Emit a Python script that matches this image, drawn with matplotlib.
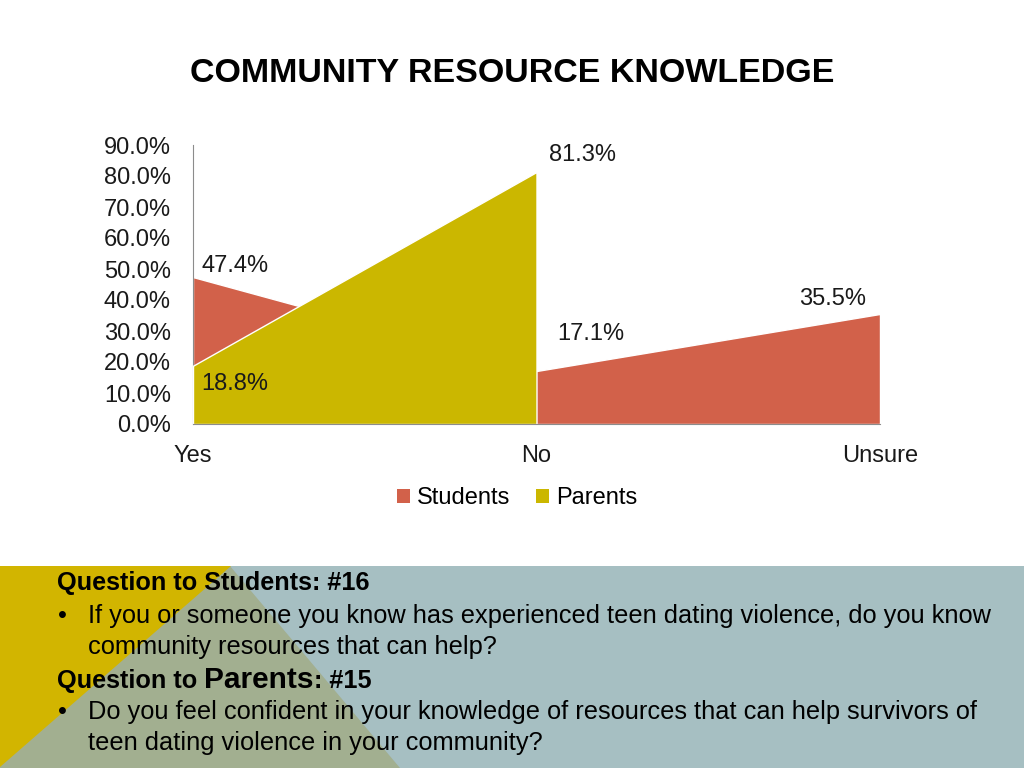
import numpy as np
import matplotlib
matplotlib.use('Agg')
import matplotlib.pyplot as plt
from matplotlib.patches import Polygon, Rectangle

# Chart data
categories = ['Yes', 'No', 'Unsure']
students = [47.4, 17.1, 35.5]
parents = [18.8, 81.3, np.nan]   # no "Unsure" value for parents
y_ticks = [0, 10, 20, 30, 40, 50, 60, 70, 80, 90]

title = 'COMMUNITY RESOURCE KNOWLEDGE'
q_students = 'Question to Students: #16'
q_students_text = ['If you or someone you know has experienced teen dating violence, do you know',
                   'community resources that can help?']
q_parents_text = ['Do you feel confident in your knowledge of resources that can help survivors of',
                  'teen dating violence in your community?']

red = '#D2614A'
yellow = '#CBB700'

plt.rcParams['font.family'] = ['Liberation Sans', 'DejaVu Sans']

fig = plt.figure(figsize=(10.24, 7.68), dpi=100)
fig.patch.set_facecolor('white')

# Background layer in pixel coordinates (bottom panel)
bg = fig.add_axes([0, 0, 1, 1], zorder=-1)
bg.set_xlim(0, 1024)
bg.set_ylim(768, 0)
bg.axis('off')
bg.add_patch(Rectangle((0, 566), 1024, 202, color='#A6BFC2', lw=0))
bg.add_patch(Polygon([(0, 566), (230, 566), (400, 768), (0, 768)], closed=True, color='#A2AF90', lw=0))
bg.add_patch(Polygon([(0, 566), (231, 566), (0, 767)], closed=True, color='#D2B500', lw=0))

# Title
bg.text(512, 73, title, ha='center', va='center', fontsize=24.5, fontweight='bold', color='black')

# Area chart
ax = fig.add_axes([193 / 1024, 1 - 424 / 768, 687 / 1024, 279 / 768])
x = np.arange(len(categories))
ax.fill_between(x, students, 0, color=red, edgecolor='white', linewidth=1, label='Students', zorder=2)
ax.fill_between(x, parents, 0, color=yellow, edgecolor='white', linewidth=1, label='Parents', zorder=3)
ax.set_xlim(0, 2)
ax.set_ylim(0, 90)
ax.set_yticks(y_ticks)
ax.set_yticklabels(['%.1f%%' % v for v in y_ticks])
ax.set_xticks(x)
ax.set_xticklabels(categories)
ax.tick_params(axis='y', length=0, pad=16, labelsize=17, labelcolor='#1a1a1a')
ax.tick_params(axis='x', length=0, pad=15, labelsize=17, labelcolor='#1a1a1a')
for s in ['top', 'right']:
    ax.spines[s].set_visible(False)
ax.spines['left'].set_color('#8C8C8C')
ax.spines['bottom'].set_color('#8C8C8C')
ax.spines['bottom'].set_zorder(4)

# data labels (offsets in points)
px = 0.72
label_offsets = {
    ('s', 0): (8, 11, 'left'),
    ('s', 1): (21, 37, 'left'),
    ('s', 2): (-14, 15, 'right'),
    ('p', 0): (8, -18, 'left'),
    ('p', 1): (12, 17, 'left'),
}
for i, v in enumerate(students):
    dx, dy, ha = label_offsets[('s', i)]
    ax.annotate('%.1f%%' % v, (i, v), xytext=(dx * px, dy * px), textcoords='offset points',
                ha=ha, va='center', fontsize=17, color='#1a1a1a', zorder=5)
for i, v in enumerate(parents):
    if np.isnan(v):
        continue
    dx, dy, ha = label_offsets[('p', i)]
    ax.annotate('%.1f%%' % v, (i, v), xytext=(dx * px, dy * px), textcoords='offset points',
                ha=ha, va='center', fontsize=17, color='#1a1a1a', zorder=5)

leg = ax.legend(loc='center', bbox_to_anchor=(517 / 1024, 1 - 498 / 768), bbox_transform=fig.transFigure,
                ncol=2, frameon=False, fontsize=17, handlelength=0.55, handleheight=0.55,
                handletextpad=0.3, columnspacing=1.1)
for h in leg.legend_handles:
    h.set_edgecolor('none')

# Bottom panel text
fs = 18.3
bg.text(57, 583, q_students, ha='left', va='center', fontsize=18.2, fontweight='bold', color='black')
bg.text(58, 616, '\u2022', ha='left', va='center', fontsize=fs, color='black')
bg.text(88, 616, q_students_text[0], ha='left', va='center', fontsize=fs, color='black')
bg.text(88, 647, q_students_text[1], ha='left', va='center', fontsize=fs, color='black')

# "Question to Parents: #15" with a larger "Parents"
fig.canvas.draw()
renderer = fig.canvas.get_renderer()
inv = bg.transData.inverted()
t1 = bg.text(57, 688, 'Question to ', ha='left', va='baseline', fontsize=18.2, fontweight='bold')
ext = t1.get_window_extent(renderer)
x1 = inv.transform((ext.x1, ext.y0))[0]
t2 = bg.text(x1, 688, 'Parents', ha='left', va='baseline', fontsize=21.5, fontweight='bold')
ext = t2.get_window_extent(renderer)
x2 = inv.transform((ext.x1, ext.y0))[0]
bg.text(x2, 688, ': #15', ha='left', va='baseline', fontsize=18.2, fontweight='bold')

bg.text(58, 712, '\u2022', ha='left', va='center', fontsize=fs, color='black')
bg.text(88, 712, q_parents_text[0], ha='left', va='center', fontsize=fs, color='black')
bg.text(88, 743, q_parents_text[1], ha='left', va='center', fontsize=fs, color='black')

fig.savefig('out.png', dpi=100)
